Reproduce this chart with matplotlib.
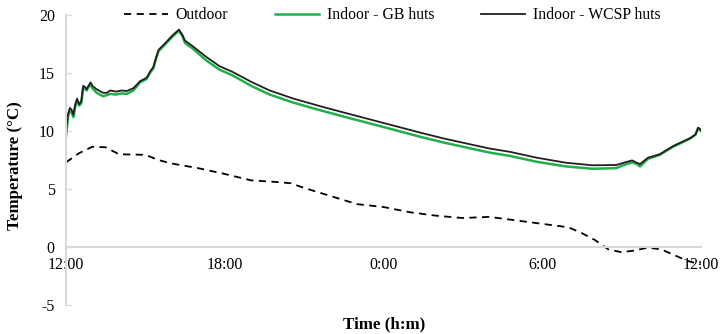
import numpy as np
import matplotlib.pyplot as plt

plt.rcParams['font.family'] = ['Liberation Serif', 'DejaVu Serif']
plt.rcParams['axes.unicode_minus'] = False

# hours after 12:00
hours = [0.0, 0.08, 0.15, 0.22, 0.28, 0.35, 0.42, 0.5, 0.58, 0.65, 0.72, 0.78, 0.85, 0.93,
         1.0, 1.16, 1.4, 1.55, 1.67, 1.9, 2.1, 2.3, 2.55, 2.8, 3.05, 3.2, 3.3, 3.4, 3.5,
         3.8, 4.05, 4.27, 4.4, 4.5, 4.8, 5.3, 5.8, 6.3, 7.0, 7.7, 8.6, 9.6, 10.5, 11.5,
         12.5, 13.4, 14.3, 15.3, 16.0, 16.8, 17.8, 18.9, 19.9, 20.8, 21.06, 21.4, 21.55,
         21.7, 22.0, 22.45, 22.95, 23.6, 23.8, 23.9, 24.0]

wcsp = [10.0, 11.5, 12.0, 11.8, 11.4, 12.3, 12.8, 12.3, 12.6, 13.9, 13.8, 13.6, 13.9, 14.2,
        13.9, 13.6, 13.3, 13.3, 13.5, 13.4, 13.5, 13.45, 13.7, 14.3, 14.6, 15.2, 15.5, 16.3, 17.0,
        17.7, 18.3, 18.75, 18.3, 17.8, 17.3, 16.4, 15.6, 15.1, 14.25, 13.5, 12.8, 12.15, 11.6, 11.0,
        10.4, 9.86, 9.35, 8.85, 8.5, 8.2, 7.7, 7.27, 7.05, 7.07, 7.25, 7.47, 7.3,
        7.15, 7.7, 8.0, 8.7, 9.4, 9.7, 10.3, 10.1]

gb = [9.5, 11.3, 11.7, 11.6, 11.2, 12.1, 12.6, 12.2, 12.4, 13.7, 13.7, 13.5, 13.8, 14.0,
      13.7, 13.3, 13.0, 13.1, 13.2, 13.15, 13.25, 13.2, 13.5, 14.2, 14.5, 15.1, 15.4, 16.2, 16.9,
      17.6, 18.2, 18.65, 18.2, 17.6, 17.1, 16.1, 15.3, 14.8, 13.9, 13.15, 12.45, 11.8, 11.25, 10.65,
      10.05, 9.5, 9.0, 8.5, 8.15, 7.85, 7.35, 6.95, 6.75, 6.8, 7.05, 7.3, 7.2,
      6.95, 7.6, 7.95, 8.65, 9.35, 9.7, 10.25, 10.0]

out_hours = [0, 0.5, 1.0, 1.5, 2, 3, 3.5, 4, 5, 6, 7, 8, 8.5, 9, 10, 11, 12, 13, 14, 15, 16,
             17, 18, 19, 19.5, 20, 20.5, 21, 21.5, 22, 22.5, 23, 23.5, 24]
outdoor = [7.3, 8.1, 8.65, 8.6, 8.0, 7.95, 7.5, 7.2, 6.8, 6.3, 5.75, 5.6, 5.5, 5.1, 4.4, 3.7,
           3.45, 3.0, 2.7, 2.5, 2.6, 2.3, 2.0, 1.7, 1.2, 0.6, -0.2, -0.45, -0.3, -0.05, -0.2,
           -0.7, -1.2, -1.5]

tick_pos = [0, 6, 12, 18, 24]
tick_labels = ["12:00", "18:00", "0:00", "6:00", "12:00"]

fig = plt.figure(figsize=(7.21, 3.34), dpi=100)
ax = fig.add_axes([0.0915, 0.0868, 0.8805, 0.868])

ax.plot(out_hours, outdoor, color="black", lw=1.3, ls=(0, (4, 3)), label="Outdoor")
ax.plot(hours, gb, color="#1fb04a", lw=1.8, label="Indoor - GB huts")
ax.plot(hours, wcsp, color="#231f20", lw=1.3, label="Indoor - WCSP huts")

ax.set_xlim(0, 24)
ax.set_ylim(-5, 20)
ax.set_yticks([-5, 0, 5, 10, 15, 20])
ax.set_xticks(tick_pos)
ax.set_xticklabels(tick_labels)

for s in ["top", "right"]:
    ax.spines[s].set_visible(False)
ax.spines["bottom"].set_position(("data", 0))
ax.spines["bottom"].set_color("#d9d9d9")
ax.spines["left"].set_color("#d9d9d9")
ax.spines["bottom"].set_linewidth(1.5)
ax.spines["left"].set_linewidth(1.5)

ax.tick_params(axis="y", direction="in", length=4, color="#d9d9d9", width=1, pad=8, labelsize=11.5)
ax.tick_params(axis="x", length=0, pad=7, labelsize=11.5)

ax.set_xlabel("Time (h:m)", fontsize=12.2, fontweight="bold")
ax.xaxis.set_label_coords(0.501, -0.04)
ax.set_ylabel("Temperature (°C)", fontsize=12.2, fontweight="bold")
ax.yaxis.set_label_coords(-0.068, 0.48)

fig.legend(loc="center", bbox_to_anchor=(0.544, 0.955), ncol=3, frameon=False,
           fontsize=11.3, handlelength=2.8, handletextpad=0.5, columnspacing=3.0)

plt.savefig("out.png", dpi=100)
